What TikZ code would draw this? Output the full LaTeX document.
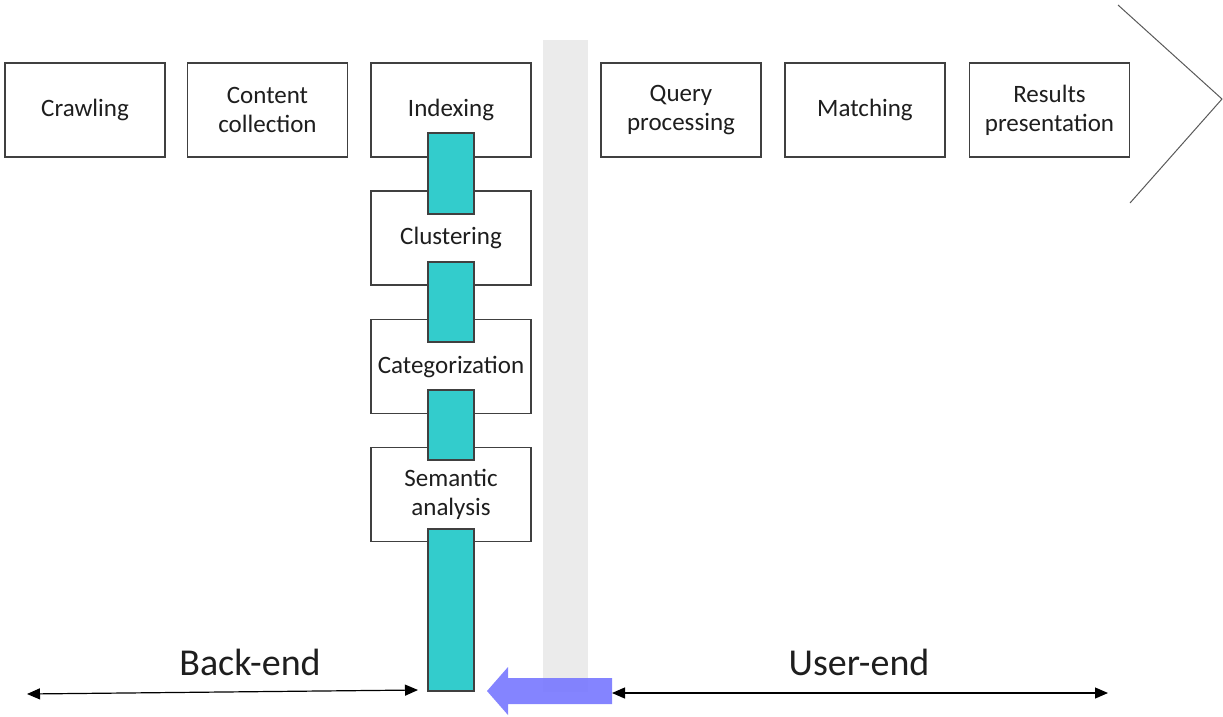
\documentclass[tikz,border=0pt]{standalone}
\usepackage{fontspec}
\setmainfont{Carlito}
\usetikzlibrary{arrows.meta}
\definecolor{boxline}{RGB}{64,64,64}
\definecolor{textcol}{RGB}{30,30,30}
\definecolor{tealfill}{RGB}{51,204,204}
\definecolor{bandgray}{RGB}{235,235,235}
\definecolor{flowblue}{RGB}{122,122,255}
\begin{document}
\begin{tikzpicture}[x=1pt,y=-1pt,
  stage/.style={draw=boxline, line width=1.3pt, fill=white, minimum width=160pt,
    minimum height=94pt, align=center, inner sep=0pt, text=textcol,
    font=\fontsize{25}{29}\selectfont},
  link/.style={draw=boxline, line width=1.3pt, fill=tealfill, minimum width=46pt, inner sep=0pt},
  span/.style={line width=1.2pt, draw=black, {Triangle[length=13pt,width=11pt]}-{Triangle[length=13pt,width=11pt]}},
  sidelabel/.style={text=textcol, font=\fontsize{38}{44}\selectfont}
]
\useasboundingbox (0,0) rectangle (1223,716);

% separator band between back-end and user-end
\fill[bandgray] (543,40) rectangle (588,692);

% direction chevron
\draw[line width=1pt, draw=black!65] (1118,5) -- (1222,99) -- (1130,203);

% pipeline stages
\node[stage] (crawl)   at (85,110)    {Crawling};
\node[stage] (collect) at (267.5,110) {Content\\collection};
\node[stage] (index)   at (451,110)   {Indexing};
\node[stage] (query)   at (681,110)   {Query\\processing};
\node[stage] (match)   at (865,110)   {Matching};
\node[stage] (present) at (1049.5,110){Results\\presentation};

% indexing sub-stages
\node[stage] (cluster)  at (451,238)   {Clustering};
\node[stage] (category) at (451,366.5) {Categorization};
\node[stage] (semantic) at (451,494.5) {Semantic\\analysis};

% connecting links
\node[link, minimum height=81pt]  (l1) at (451,173.5) {};
\node[link, minimum height=80pt]  (l2) at (451,302)   {};
\node[link, minimum height=70pt]  (l3) at (451,425)   {};
\node[link, minimum height=162pt] (l4) at (451,610)   {};

% flow arrow towards the back-end
\fill[flowblue, opacity=0.92] (612,678) -- (508,678) -- (508,667) -- (487,691)
  -- (508,715) -- (508,704) -- (612,704) -- cycle;
\coordinate (flowtail) at (612,693);

% extent arrows
\coordinate (backL) at (27,694);
\coordinate (backR) at (418,690);
\coordinate (userR) at (1108,693);
\draw[span] (backL) -- (backR);
\draw[span] (flowtail) -- (userR);

\node[sidelabel] (backlbl) at (250,662) {Back-end};
\node[sidelabel] (userlbl) at (859,662) {User-end};
\end{tikzpicture}
\end{document}
